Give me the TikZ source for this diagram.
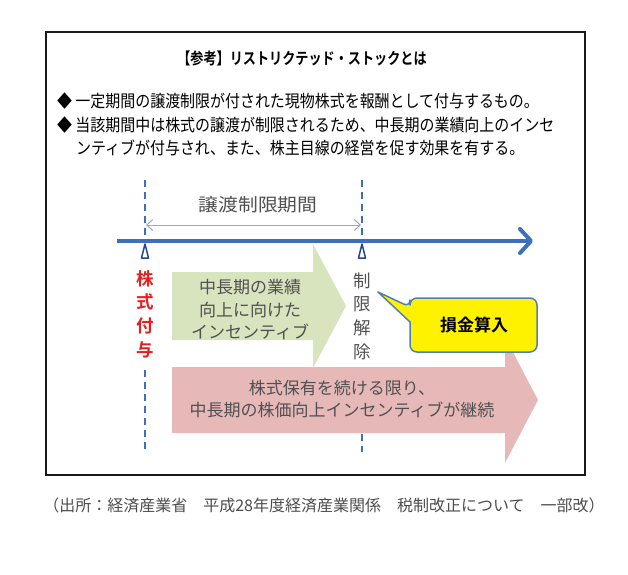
\documentclass[tikz,border=0pt]{standalone}
\usepackage{graphicx}
\usepackage{fontspec}
\setmainfont{Noto Sans CJK JP}[BoldFont={Noto Sans CJK JP Bold}]
\usetikzlibrary{arrows.meta}
\definecolor{tlblue}{RGB}{62,112,186}
\definecolor{lblue}{RGB}{140,170,212}
\definecolor{mkblue}{RGB}{40,70,140}
\definecolor{txtred}{RGB}{232,30,30}
\definecolor{txtgray}{RGB}{80,80,80}
\definecolor{greenarrow}{RGB}{216,228,190}
\definecolor{pinkarrow}{RGB}{230,185,184}
\definecolor{callborder}{RGB}{80,128,175}
\tikzset{
  fs/.style={font=\fontsize{#1}{#1}\selectfont},
  vtext/.style={align=center, inner sep=0pt, font=\fontsize{17.5}{23.6}\selectfont},
  dashline/.style={tlblue, line width=1.8, dash pattern=on 7pt off 5pt},
  marker/.style={mkblue, line width=1.5, fill=white, line join=round},
}
\begin{document}
\begin{tikzpicture}[x=1pt,y=-1pt]
\useasboundingbox (0,0) rectangle (628,574);
% outer frame
\draw[line width=2, black!90] (46,32) rectangle (585,475);
% title
\node[font=\bfseries\fontsize{16}{16}\selectfont, inner sep=0pt] (title) at (302,58)
  {\scalebox{0.82}[1]{【参考】リストリクテッド・ストックとは}};
% bullets
\node[anchor=west, inner sep=0pt, font=\fontsize{17}{17}\selectfont] (b1) at (57,101)
  {\scalebox{0.88}[1]{◆ 一定期間の譲渡制限が付された現物株式を報酬として付与するもの。}};
\node[anchor=west, inner sep=0pt, font=\fontsize{17}{17}\selectfont] (b2) at (57,125)
  {\scalebox{0.88}[1]{◆ 当該期間中は株式の譲渡が制限されるため、中長期の業績向上のインセ}};
\node[anchor=west, inner sep=0pt, font=\fontsize{17}{17}\selectfont] (b3) at (76,148)
  {\scalebox{0.88}[1]{ンティブが付与され、また、株主目線の経営を促す効果を有する。}};

% coordinates
\coordinate (tl0) at (117,241);
\coordinate (tl1) at (533,241);
\coordinate (s0) at (145,180);
\coordinate (s1) at (145,239);
\coordinate (s2) at (145,370);
\coordinate (s3) at (145,452);
\coordinate (e0) at (362,180);
\coordinate (e1) at (362,239);
\coordinate (e2) at (362,434);
\coordinate (e3) at (362,452);
\coordinate (pa) at (146,225);
\coordinate (pb) at (361,225);

% dashed lines
\draw[dashline] (s0) -- (s1);
\draw[dashline] (s2) -- (s3);
\draw[dashline] (e0) -- (e1);
\draw[dashline] (e2) -- (e3);

% period arrow
\draw[lblue, line width=1, {Straight Barb[length=6,width=11]}-{Straight Barb[length=6,width=11]}] (pa) -- (pb);
\node[fs=18, text=txtgray, inner sep=0pt] (period) at (258,205) {\scalebox{1.1}[1]{譲渡制限期間}};

% timeline
\draw[tlblue, line width=4, -{Straight Barb[length=11,width=24,line cap=round,line join=round]}] (tl0) -- (tl1);

% markers
\draw[marker] (145,244) -- (148.5,258) -- (141.5,258) -- cycle;
\draw[marker] (362,244) -- (365.5,258) -- (358.5,258) -- cycle;

% green arrow
\fill[greenarrow] (172,272) -- (313,272) -- (313,244) -- (346,306) -- (313,368) -- (313,340) -- (172,340) -- cycle;
% pink arrow
\fill[pinkarrow] (172,367) -- (505,367) -- (505,337) -- (538,400) -- (505,463) -- (505,433) -- (172,433) -- cycle;

% texts
\node[vtext, text=txtred, font=\bfseries\fontsize{17.5}{23.6}\selectfont] (grant) at (145,314) {株\\式\\付\\与};
\node[vtext, text=txtgray] (release) at (362,316) {制\\限\\解\\除};
\node[align=center, inner sep=0pt, text=txtgray, font=\fontsize{17}{22.5}\selectfont] (gtext) at (250,310)
  {中長期の業績\\向上に向けた\\インセンティブ};
\node[align=center, inner sep=0pt, text=txtgray, font=\fontsize{17}{22}\selectfont] (ptext) at (342,399)
  {株式保有を続ける限り、\\中長期の株価向上インセンティブが継続};

% callout
\draw[callborder, line width=1.5, fill=yellow, line join=round]
  (410,322) [rounded corners=7] -- (410,352) -- (537,352) -- (537,298) -- (410,298) -- (410,307) [sharp corners] -- (378,292) -- cycle;
\node[font=\bfseries\fontsize{17}{17}\selectfont, inner sep=0pt] (son) at (474,325) {損金算入};

% source
\node[fs=16, text=black!70, inner sep=0pt] (src) at (324,505)
  {（出所：経済産業省　平成28年度経済産業関係　税制改正について　一部改）};
\end{tikzpicture}
\end{document}
